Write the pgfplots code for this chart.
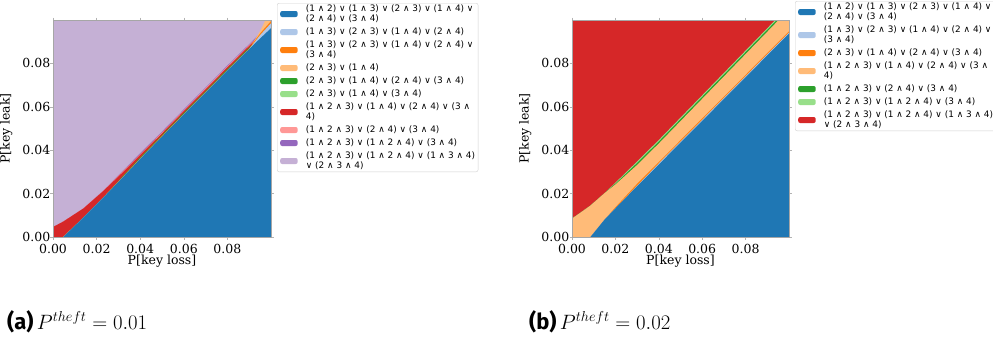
\documentclass[border=0pt]{standalone}
\usepackage{pgfplots}
\pgfplotsset{compat=1.18}
\usepackage{fontspec}
\newfontfamily\dvserif{DejaVu Serif}
\newfontfamily\dvsans{DejaVu Sans}
\newfontfamily\capsans{Fira Sans}
\definecolor{tBlue}{HTML}{1F77B4}
\definecolor{tLBlue}{HTML}{AEC7E8}
\definecolor{tOrange}{HTML}{FF7F0E}
\definecolor{tLOrange}{HTML}{FFBB78}
\definecolor{tGreen}{HTML}{2CA02C}
\definecolor{tLGreen}{HTML}{98DF8A}
\definecolor{tRed}{HTML}{D62728}
\definecolor{tPink}{HTML}{FF9896}
\definecolor{tPurple}{HTML}{9467BD}
\definecolor{tLav}{HTML}{C5B0D5}
\DeclareRobustCommand{\lst}{\vrule height 7.1pt depth 2.9pt width 0pt\relax}
\DeclareRobustCommand{\one}[1]{\vbox{\offinterlineskip\hbox{\lst #1}}}
\DeclareRobustCommand{\two}[2]{\vbox{\offinterlineskip\hbox{\lst #1}\hbox{\lst #2}}}
\pgfplotsset{
  regstyle/.style={
    scale only axis, height=217pt,
    xmin=0, xmax=0.1, ymin=0, ymax=0.1,
    xtick={0,0.02,0.04,0.06,0.08}, ytick={0,0.02,0.04,0.06,0.08},
    scaled ticks=false,
    /pgf/number format/fixed, /pgf/number format/fixed zerofill,
    /pgf/number format/precision=2, /pgf/number format/assume math mode=true,
    tick label style={font=\dvserif\fontsize{12.5}{14}\selectfont, inner sep=0pt},
    xticklabel style={anchor=north, yshift=-4.3pt},
    yticklabel style={anchor=east},
    tick align=outside, major tick length=2.5pt,
    tick style={gray!60, line width=0.5pt},
    axis line style={gray!70, line width=0.6pt},
    axis on top,
    xlabel={P[key loss]}, ylabel={P[key leak]},
    every axis x label/.style={at={(axis description cs:0.5,-0.0800)}, anchor=north, inner sep=0pt, font=\dvserif\fontsize{12.5}{14}\selectfont},
    every axis y label/.style={at={(axis description cs:-0.1995,0.5)}, rotate=90, anchor=base, inner sep=0pt, font=\dvserif\fontsize{12.5}{14}\selectfont},
    legend style={anchor=north west, draw=black!18, rounded corners=2pt,
      inner xsep=3pt, inner ysep=1.5pt, row sep=4.4pt, column sep=0pt,
      font=\dvsans\fontsize{8.9}{10}\selectfont, nodes={inner sep=0pt}},
    legend cell align=left,
    legend image code/.code={\fill[draw=none,##1] (0pt,-3pt) rectangle (17.5pt,3pt); \path (25.5pt,0pt);},
  }
}
\begin{document}
\begin{tikzpicture}
\useasboundingbox (0pt,0pt) rectangle (993pt,341pt);
% ---------------- panel (a) ----------------
\begin{axis}[regstyle, at={(53pt,104pt)}, anchor=south west, width=218pt,
  legend style={at={(1,1)}, xshift=6pt, yshift=17pt}]
\addplot[fill=tLav, draw=none, forget plot] coordinates {(0,0) (0,0.1) (0.1,0.1) (0.1,0)};
\addplot[fill=tPurple, draw=none, forget plot] coordinates {(0,0) (0,0.0046) (0.0047,0.0071) (0.014,0.0132) (0.0232,0.0215) (0.0324,0.0309) (0.04,0.0386) (0.05,0.0486) (0.06,0.0588) (0.07,0.0689) (0.08,0.0790) (0.09,0.0889) (0.095,0.0938) (0.1,0.0988) (0.1,0)};
\addplot[fill=tPink, draw=none, forget plot] coordinates {(0,0) (0,0.0046) (0.0047,0.0071) (0.014,0.0132) (0.0232,0.0214) (0.0324,0.0306) (0.04,0.0382) (0.05,0.0482) (0.06,0.0584) (0.07,0.0685) (0.08,0.0786) (0.09,0.0885) (0.095,0.0934) (0.1,0.0984) (0.1,0)};
\addplot[fill=tRed, draw=none, forget plot] coordinates {(0,0) (0,0.0046) (0.0047,0.0071) (0.014,0.0132) (0.0232,0.0213) (0.0324,0.0302) (0.04,0.0378) (0.05,0.0478) (0.06,0.0580) (0.07,0.0681) (0.08,0.0782) (0.09,0.0881) (0.095,0.0930) (0.1,0.0980) (0.1,0)};
\addplot[fill=tLOrange, draw=none, forget plot] coordinates {(0.0047,0) (0.014,0.0090) (0.0232,0.0183) (0.0324,0.0279) (0.04,0.0360) (0.05,0.0463) (0.06,0.0565) (0.07,0.0666) (0.08,0.0767) (0.09,0.0866) (0.095,0.0948) (0.0975,0.1) (0.1,0.1) (0.1,0)};
\addplot[fill=tGreen, draw=none, forget plot] coordinates {(0.0047,0) (0.014,0.0090) (0.0232,0.0183) (0.0324,0.0285) (0.04,0.0367) (0.05,0.0470) (0.06,0.0572) (0.07,0.0673) (0.08,0.0774) (0.09,0.0873) (0.095,0.0925) (0.1,0.0970) (0.1,0)};
\addplot[fill=tOrange, draw=none, forget plot] coordinates {(0.0047,0) (0.014,0.0090) (0.0232,0.0184) (0.0324,0.0282) (0.04,0.0363) (0.05,0.0466) (0.06,0.0568) (0.07,0.0669) (0.08,0.0770) (0.09,0.0869) (0.095,0.0938) (0.1,0.0995) (0.1,0)};
\addplot[fill=tLBlue, draw=none, forget plot] coordinates {(0.0047,0) (0.014,0.0090) (0.0232,0.0183) (0.0324,0.0279) (0.04,0.0360) (0.05,0.0463) (0.06,0.0565) (0.07,0.0666) (0.08,0.0767) (0.09,0.0866) (0.095,0.0930) (0.1,0.0985) (0.1,0)};
\addplot[fill=tBlue, draw=none, forget plot] coordinates {(0.0047,0) (0.014,0.0090) (0.0232,0.0183) (0.0324,0.0279) (0.04,0.0360) (0.05,0.0463) (0.06,0.0565) (0.07,0.0666) (0.08,0.0767) (0.09,0.0866) (0.095,0.0915) (0.1,0.0962) (0.1,0)};
\addlegendimage{fill=tBlue}\addlegendentry{\two{(1 ∧ 2) ∨ (1 ∧ 3) ∨ (2 ∧ 3) ∨ (1 ∧ 4) ∨}{(2 ∧ 4) ∨ (3 ∧ 4)}}
\addlegendimage{fill=tLBlue}\addlegendentry{\one{(1 ∧ 3) ∨ (2 ∧ 3) ∨ (1 ∧ 4) ∨ (2 ∧ 4)}}
\addlegendimage{fill=tOrange}\addlegendentry{\two{(1 ∧ 3) ∨ (2 ∧ 3) ∨ (1 ∧ 4) ∨ (2 ∧ 4) ∨}{(3 ∧ 4)}}
\addlegendimage{fill=tLOrange}\addlegendentry{\one{(2 ∧ 3) ∨ (1 ∧ 4)}}
\addlegendimage{fill=tGreen}\addlegendentry{\one{(2 ∧ 3) ∨ (1 ∧ 4) ∨ (2 ∧ 4) ∨ (3 ∧ 4)}}
\addlegendimage{fill=tLGreen}\addlegendentry{\one{(2 ∧ 3) ∨ (1 ∧ 4) ∨ (3 ∧ 4)}}
\addlegendimage{fill=tRed}\addlegendentry{\two{(1 ∧ 2 ∧ 3) ∨ (1 ∧ 4) ∨ (2 ∧ 4) ∨ (3 ∧}{4)}}
\addlegendimage{fill=tPink}\addlegendentry{\one{(1 ∧ 2 ∧ 3) ∨ (2 ∧ 4) ∨ (3 ∧ 4)}}
\addlegendimage{fill=tPurple}\addlegendentry{\one{(1 ∧ 2 ∧ 3) ∨ (1 ∧ 2 ∧ 4) ∨ (3 ∧ 4)}}
\addlegendimage{fill=tLav}\addlegendentry{\two{(1 ∧ 2 ∧ 3) ∨ (1 ∧ 2 ∧ 4) ∨ (1 ∧ 3 ∧ 4)}{∨ (2 ∧ 3 ∧ 4)}}
\end{axis}
% ---------------- panel (b) ----------------
\begin{axis}[regstyle, at={(572pt,104pt)}, anchor=south west, width=217pt,
  legend style={at={(1,1)}, xshift=6pt, yshift=19pt}]
\addplot[fill=tRed, draw=none, forget plot] coordinates {(0,0) (0,0.1) (0.1,0.1) (0.1,0)};
\addplot[fill=tLGreen, draw=none, forget plot] coordinates {(0,0) (0,0.0085) (0.005,0.0120) (0.0085,0.0145) (0.015,0.0202) (0.02,0.0250) (0.03,0.0348) (0.04,0.0447) (0.05,0.0550) (0.06,0.0653) (0.07,0.0756) (0.08,0.0859) (0.09,0.0962) (0.0937,0.1) (0.1,0.1) (0.1,0)};
\addplot[fill=tGreen, draw=none, forget plot] coordinates {(0,0) (0,0.0085) (0.005,0.0120) (0.0085,0.0145) (0.015,0.0202) (0.02,0.0246) (0.03,0.0341) (0.04,0.0440) (0.05,0.0543) (0.06,0.0646) (0.07,0.0749) (0.08,0.0852) (0.09,0.0955) (0.0944,0.1) (0.1,0.1) (0.1,0)};
\addplot[fill=tLOrange, draw=none, forget plot] coordinates {(0,0) (0,0.0085) (0.005,0.0120) (0.0085,0.0145) (0.015,0.0202) (0.02,0.0242) (0.03,0.0332) (0.04,0.0431) (0.05,0.0534) (0.06,0.0637) (0.07,0.0740) (0.08,0.0843) (0.09,0.0946) (0.0952,0.1) (0.1,0.1) (0.1,0)};
\addplot[fill=tOrange, draw=none, forget plot] coordinates {(0.0085,0) (0.015,0.0080) (0.02,0.0137) (0.03,0.0245) (0.04,0.0345) (0.05,0.0446) (0.06,0.0546) (0.07,0.0647) (0.08,0.0747) (0.09,0.0848) (0.1,0.0948) (0.1,0)};
\addplot[fill=tLBlue, draw=none, forget plot] coordinates {(0.0085,0) (0.015,0.0080) (0.02,0.0132) (0.03,0.0236) (0.04,0.0339) (0.05,0.0440) (0.06,0.0540) (0.07,0.0641) (0.08,0.0741) (0.09,0.0842) (0.1,0.0942) (0.1,0)};
\addplot[fill=tBlue, draw=none, forget plot] coordinates {(0.0085,0) (0.015,0.0080) (0.02,0.0132) (0.03,0.0234) (0.04,0.0334) (0.05,0.0435) (0.06,0.0535) (0.07,0.0636) (0.08,0.0736) (0.09,0.0837) (0.1,0.0937) (0.1,0)};
\addlegendimage{fill=tBlue}\addlegendentry{\two{(1 ∧ 2) ∨ (1 ∧ 3) ∨ (2 ∧ 3) ∨ (1 ∧ 4) ∨}{(2 ∧ 4) ∨ (3 ∧ 4)}}
\addlegendimage{fill=tLBlue}\addlegendentry{\two{(1 ∧ 3) ∨ (2 ∧ 3) ∨ (1 ∧ 4) ∨ (2 ∧ 4) ∨}{(3 ∧ 4)}}
\addlegendimage{fill=tOrange}\addlegendentry{\one{(2 ∧ 3) ∨ (1 ∧ 4) ∨ (2 ∧ 4) ∨ (3 ∧ 4)}}
\addlegendimage{fill=tLOrange}\addlegendentry{\two{(1 ∧ 2 ∧ 3) ∨ (1 ∧ 4) ∨ (2 ∧ 4) ∨ (3 ∧}{4)}}
\addlegendimage{fill=tGreen}\addlegendentry{\one{(1 ∧ 2 ∧ 3) ∨ (2 ∧ 4) ∨ (3 ∧ 4)}}
\addlegendimage{fill=tLGreen}\addlegendentry{\one{(1 ∧ 2 ∧ 3) ∨ (1 ∧ 2 ∧ 4) ∨ (3 ∧ 4)}}
\addlegendimage{fill=tRed}\addlegendentry{\two{(1 ∧ 2 ∧ 3) ∨ (1 ∧ 2 ∧ 4) ∨ (1 ∧ 3 ∧ 4)}{∨ (2 ∧ 3 ∧ 4)}}
\end{axis}
% ---------------- captions ----------------
\node[anchor=base west, inner sep=0pt] at (7pt,12pt) {{\capsans\bfseries\fontsize{22}{24}\selectfont (a)}\ {\fontsize{22}{24}\selectfont $P^{theft}=0.01$}};
\node[anchor=base west, inner sep=0pt] at (529pt,12pt) {{\capsans\bfseries\fontsize{22}{24}\selectfont (b)}\ {\fontsize{22}{24}\selectfont $P^{theft}=0.02$}};
\end{tikzpicture}
\end{document}
